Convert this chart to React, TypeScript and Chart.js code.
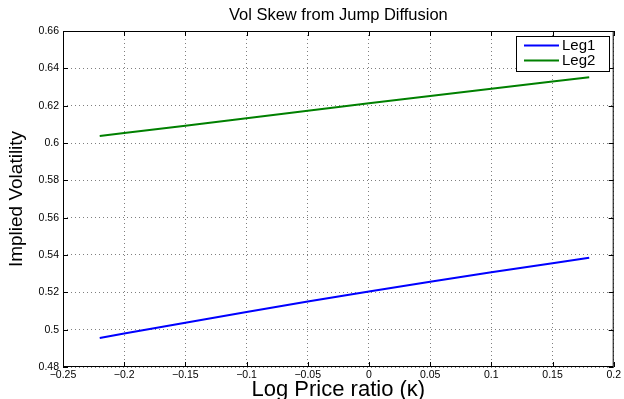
import React, { useEffect, useRef } from 'react';
import { Chart, registerables } from 'chart.js';

Chart.register(...registerables);

// ---- data ----
const kappa = [-0.22, -0.2, -0.15, -0.1, -0.05, 0, 0.05, 0.1, 0.15, 0.18];
const leg1 = [0.4955, 0.4979, 0.5037, 0.5095, 0.5151, 0.5205, 0.5257, 0.5307, 0.5356, 0.5385];
const leg2 = [0.6037, 0.6053, 0.6093, 0.6133, 0.6173, 0.6213, 0.6252, 0.6291, 0.6329, 0.6352];
const seriesNames = ['Leg1', 'Leg2'];
const seriesColors = ['#0000ff', '#008000'];

const xTicks = [-0.25, -0.2, -0.15, -0.1, -0.05, 0, 0.05, 0.1, 0.15, 0.2];
const xTickLabels = ['\u22120.25', '\u22120.2', '\u22120.15', '\u22120.1', '\u22120.05', '0', '0.05', '0.1', '0.15', '0.2'];
const yTicks = [0.48, 0.5, 0.52, 0.54, 0.56, 0.58, 0.6, 0.62, 0.64, 0.66];
const yTickLabels = ['0.48', '0.5', '0.52', '0.54', '0.56', '0.58', '0.6', '0.62', '0.64', '0.66'];

const titleText = 'Vol Skew from Jump Diffusion';
const xTitle = 'Log Price ratio (\u03ba)';
const yTitle = 'Implied Volatility';

const FONT = '"Liberation Sans", Arial, Helvetica, sans-serif';

const framePlugin = {
  id: 'matlabFrame',
  afterDraw(chart: any) {
    const { ctx, chartArea: a, scales } = chart;
    ctx.save();
    ctx.strokeStyle = '#000';
    ctx.lineWidth = 1;
    const L = 5;
    ctx.beginPath();
    scales.x.ticks.forEach((t: any) => {
      const px = Math.round(scales.x.getPixelForValue(t.value)) + 0.5;
      ctx.moveTo(px, a.bottom);
      ctx.lineTo(px, a.bottom - L);
      ctx.moveTo(px, a.top);
      ctx.lineTo(px, a.top + L);
    });
    scales.y.ticks.forEach((t: any) => {
      const py = Math.round(scales.y.getPixelForValue(t.value)) + 0.5;
      ctx.moveTo(a.left, py);
      ctx.lineTo(a.left + L, py);
      ctx.moveTo(a.right, py);
      ctx.lineTo(a.right - L, py);
    });
    ctx.stroke();
    ctx.strokeRect(a.left + 0.5, a.top + 0.5, a.right - a.left - 1, a.bottom - a.top - 1);

    // legend box
    const w = 93;
    const h = 35;
    const lx = Math.round(a.right - 5 - w);
    const ly = Math.round(a.top + 5);
    ctx.fillStyle = '#fff';
    ctx.fillRect(lx, ly, w, h);
    ctx.strokeStyle = '#000';
    ctx.lineWidth = 1;
    ctx.strokeRect(lx + 0.5, ly + 0.5, w, h);
    chart.data.datasets.forEach((ds: any, i: number) => {
      const cy = ly + 9.5 + i * 15;
      ctx.strokeStyle = ds.borderColor;
      ctx.lineWidth = 2;
      ctx.beginPath();
      ctx.moveTo(lx + 8, cy);
      ctx.lineTo(lx + 43, cy);
      ctx.stroke();
      ctx.fillStyle = '#000';
      ctx.font = `15px ${FONT}`;
      ctx.textBaseline = 'middle';
      ctx.textAlign = 'left';
      ctx.fillText(ds.label, lx + 46, cy + 0.5);
    });
    ctx.restore();
  },
};

export default function App() {
  const ref = useRef<HTMLCanvasElement | null>(null);

  useEffect(() => {
    if (!ref.current) return;
    const chart = new Chart(ref.current, {
      type: 'line',
      data: {
        datasets: [
          {
            label: seriesNames[0],
            data: kappa.map((x, i) => ({ x, y: leg1[i] })),
            borderColor: seriesColors[0],
            backgroundColor: seriesColors[0],
            borderWidth: 2,
            pointRadius: 0,
            tension: 0,
            fill: false,
          },
          {
            label: seriesNames[1],
            data: kappa.map((x, i) => ({ x, y: leg2[i] })),
            borderColor: seriesColors[1],
            backgroundColor: seriesColors[1],
            borderWidth: 2,
            pointRadius: 0,
            tension: 0,
            fill: false,
          },
        ],
      },
      options: {
        animation: false,
        responsive: false,
        maintainAspectRatio: false,
        layout: { padding: { left: 0, right: 9, top: 0, bottom: 0 } },
        plugins: {
          legend: { display: false },
          tooltip: { enabled: false },
          title: {
            display: true,
            fullSize: false,
            text: titleText,
            color: '#000',
            font: { family: FONT, size: 16.5, weight: 'normal', lineHeight: 1 },
            padding: { top: 7, bottom: 7.5 },
          },
        },
        scales: {
          x: {
            type: 'linear',
            min: -0.25,
            max: 0.2,
            afterBuildTicks: (scale: any) => {
              scale.ticks = xTicks.map((v) => ({ value: v }));
            },
            afterFit: (scale: any) => {
              scale.height = 32;
            },
            ticks: {
              autoSkip: false,
              maxRotation: 0,
              padding: 3,
              color: '#000',
              font: { family: FONT, size: 10.5, lineHeight: 1 },
              callback: (_v: any, i: number) => xTickLabels[i],
            },
            grid: {
              color: 'rgba(0,0,0,0.5)',
              lineWidth: 1,
              drawTicks: false,
            },
            border: { display: false, dash: [1, 3] },
            title: {
              display: true,
              text: xTitle,
              color: '#000',
              font: { family: FONT, size: 22, lineHeight: 1 },
              padding: { top: 0, bottom: -1.5 },
            },
          },
          y: {
            type: 'linear',
            min: 0.48,
            max: 0.66,
            afterBuildTicks: (scale: any) => {
              scale.ticks = yTicks.map((v) => ({ value: v }));
            },
            afterFit: (scale: any) => {
              scale.width = 63;
            },
            ticks: {
              autoSkip: false,
              padding: 4,
              color: '#000',
              font: { family: FONT, size: 10.5 },
              callback: (_v: any, i: number) => yTickLabels[i],
            },
            grid: {
              color: 'rgba(0,0,0,0.5)',
              lineWidth: 1,
              drawTicks: false,
            },
            border: { display: false, dash: [1, 3] },
            title: {
              display: true,
              text: yTitle,
              color: '#000',
              font: { family: FONT, size: 19, lineHeight: 1 },
              padding: { top: 7, bottom: 0 },
            },
          },
        },
      },
      plugins: [framePlugin],
    } as any);
    return () => chart.destroy();
  }, []);

  return (
    <div style={{ position: 'fixed', left: 0, top: 0, width: 624, height: 399, background: '#fff' }}>
      <canvas ref={ref} width={624} height={399} style={{ display: 'block' }} />
    </div>
  );
}
